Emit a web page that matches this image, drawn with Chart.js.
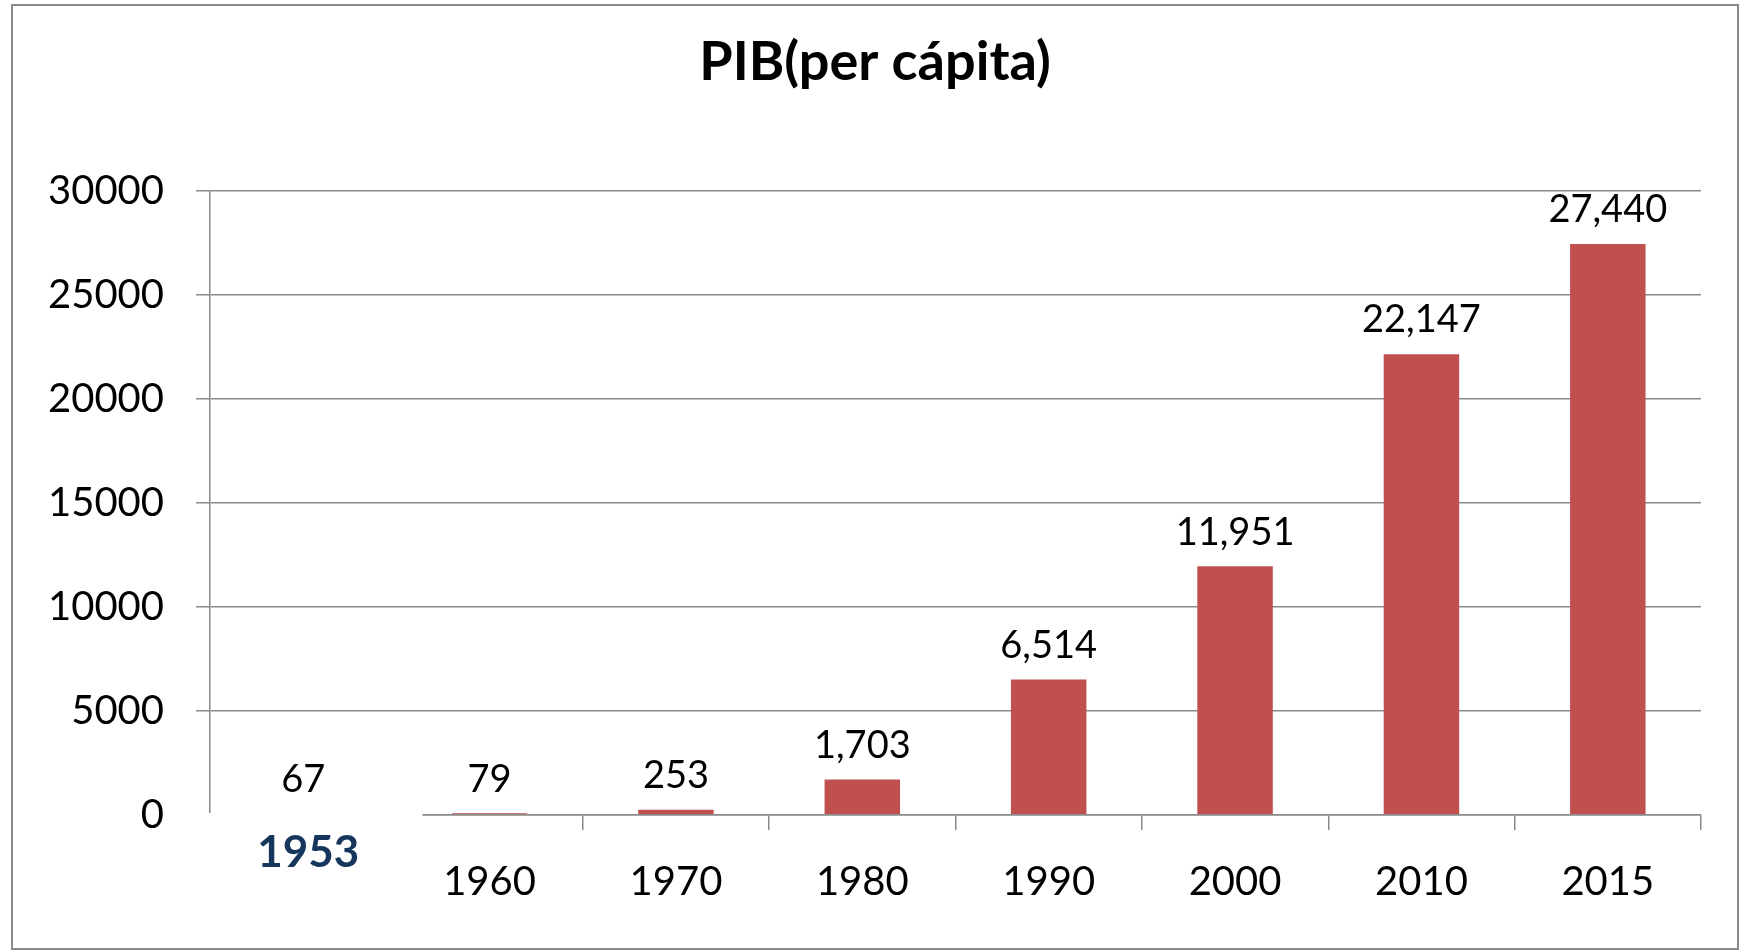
<!DOCTYPE html>
<html>
<head>
<meta charset="utf-8">
<script src="https://cdn.jsdelivr.net/npm/chart.js@4"></script>
<style>
  html, body { margin: 0; padding: 0; background: #fff; }
  #box { position: absolute; left: 11px; top: 4px; width: 1724px; height: 942px; border: 2px solid #8a8a8a; }
</style>
</head>
<body>
<div id="box"><canvas id="pibChart"></canvas></div>
<script>
const years = ['1953', '1960', '1970', '1980', '1990', '2000', '2010', '2015'];
const pib = [67, 79, 253, 1703, 6514, 11951, 22147, 27440];
const yTicks = [0, 5000, 10000, 15000, 20000, 25000, 30000];

const lineGray = '#8a8a8a';

// value above each bar
const valueLabels = {
    id: 'valueLabels',
    afterDatasetsDraw(chart) {
        const ctx = chart.ctx;
        const meta = chart.getDatasetMeta(0);
        ctx.save();
        ctx.font = '38px Lato';
        ctx.fillStyle = '#000';
        ctx.textAlign = 'center';
        ctx.textBaseline = 'middle';
        meta.data.forEach((bar, i) => {
            ctx.fillText(pib[i].toLocaleString('en-US'), bar.x, bar.y - 34);
        });
        ctx.restore();
    }
};

// the 1953 label sits in its own white box over the axis
const firstYear = {
    id: 'firstYear',
    afterDraw(chart) {
        const { ctx, chartArea } = chart;
        const x = chart.scales.x;
        const cx = x.getPixelForValue(0);
        const w = x.getPixelForValue(1) - cx;
        const left = chartArea.left - 17;
        ctx.save();
        ctx.fillStyle = '#fff';
        ctx.fillRect(left, chartArea.bottom - 2, cx + 0.64 * w - left, 70);
        ctx.font = 'bold 44px Lato';
        ctx.fillStyle = '#17365D';
        ctx.textAlign = 'center';
        ctx.textBaseline = 'middle';
        ctx.fillText(years[0], cx + 5, chartArea.bottom + 38);
        ctx.restore();
    }
};

new Chart(document.getElementById('pibChart'), {
    type: 'bar',
    data: {
        labels: years,
        datasets: [{
            data: pib,
            backgroundColor: '#C0504D',
            borderWidth: 0,
            barPercentage: 0.405,
            categoryPercentage: 1
        }]
    },
    options: {
        responsive: true,
        maintainAspectRatio: false,
        animation: false,
        layout: {
            padding: 0
        },
        plugins: {
            legend: { display: false },
            tooltip: { enabled: false },
            title: {
                display: true,
                text: 'PIB(per cápita)',
                color: '#000',
                font: { family: 'Lato', size: 54, weight: 'bold' },
                padding: { top: 24, bottom: 96 }
            }
        },
        scales: {
            x: {
                grid: {
                    offset: true,
                    drawOnChartArea: false,
                    tickLength: 15,
                    color: lineGray,
                    lineWidth: 1.5
                },
                border: { color: lineGray, width: 1.5, z: 1 },
                ticks: {
                    color: '#000',
                    font: { family: 'Lato', size: 40 },
                    padding: 28,
                    autoSkip: false,
                    maxRotation: 0,
                    callback: (v, i) => i === 0 ? '' : years[i]
                },
                afterFit: s => { s.height = 133; }
            },
            y: {
                min: 0,
                max: 30000,
                grid: { color: lineGray, lineWidth: 1.5, tickLength: 14 },
                border: { color: lineGray, width: 1.5 },
                ticks: {
                    color: '#000',
                    font: { family: 'Lato', size: 40 },
                    padding: 32,
                    callback: v => String(v)
                },
                afterBuildTicks: s => { s.ticks = yTicks.map(v => ({ value: v })); },
                afterFit: s => { s.width = 197; }
            },
            // empty strip on the right so the title stays centred on the whole box
            yRight: {
                position: 'right',
                grid: { display: false },
                border: { display: false },
                ticks: { display: false },
                afterFit: s => { s.width = 36; }
            }
        }
    },
    plugins: [valueLabels, firstYear]
});
</script>
</body>
</html>
